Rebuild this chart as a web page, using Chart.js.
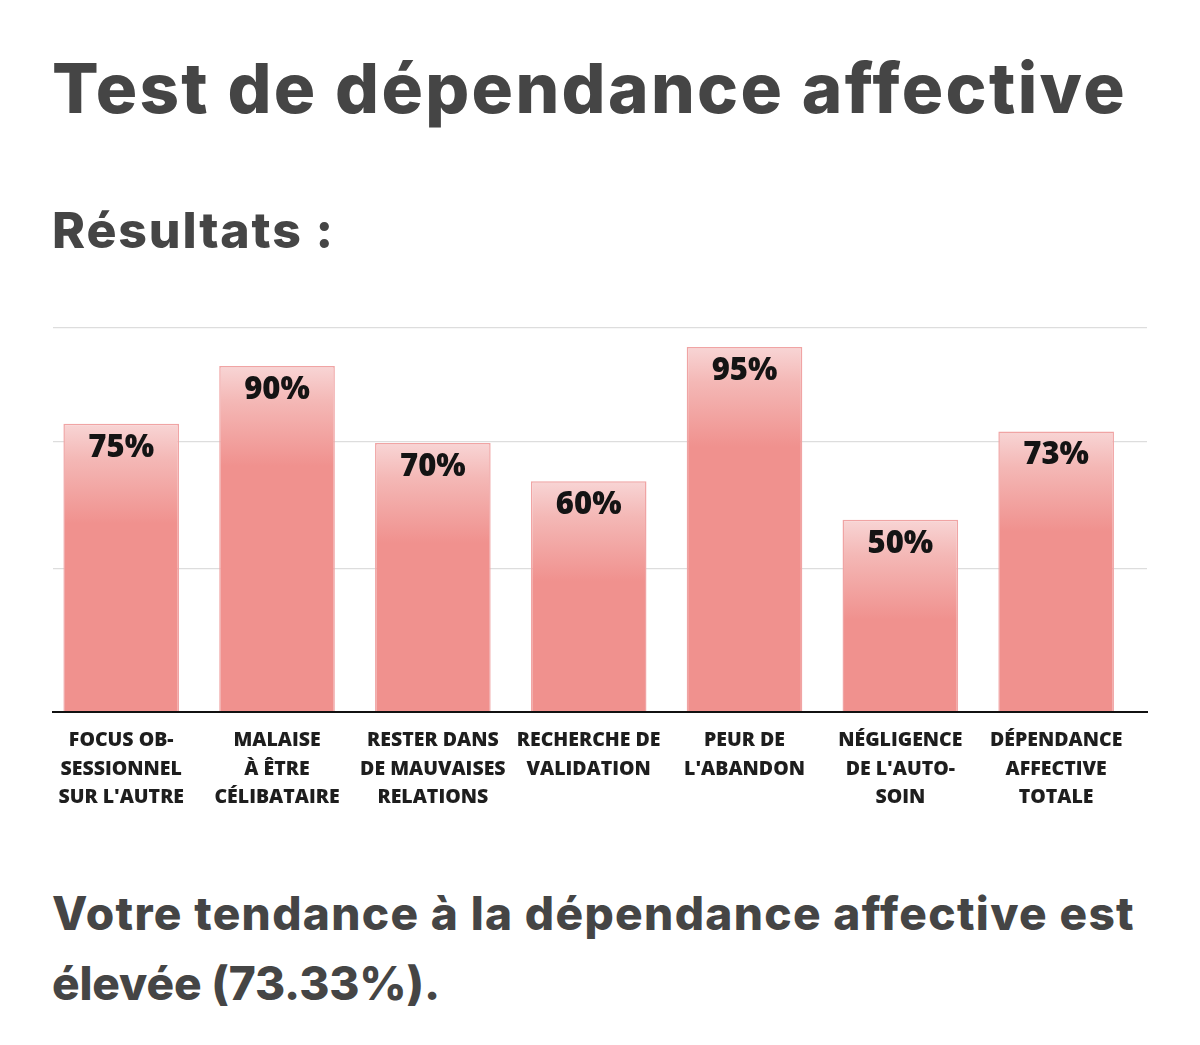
<!DOCTYPE html>
<html><head><meta charset="utf-8">
<script src="https://cdn.jsdelivr.net/npm/chart.js@4.4.0/dist/chart.umd.min.js"></script>
<style>
html,body{margin:0;padding:0;background:#fff;width:1200px;height:1045px;overflow:hidden;}
.t{position:absolute;left:0;top:0;white-space:nowrap;font-family:Inter, "Noto Sans", sans-serif;color:#454545;line-height:1;}
.b{display:inline-block;width:0;height:0;vertical-align:baseline;}
#wrap{position:absolute;left:0;top:300px;width:1200px;height:520px;}
</style></head>
<body>
<div class="t" id="title" data-base="113.3" data-left="52" data-width="1075" style="font-size:69px;font-weight:800">Test de dépendance affective</div>
<div class="t" id="sub" data-base="247.5" data-left="52" data-width="283" style="font-size:50px;font-weight:800">Résultats :</div>
<div class="t" id="p1" data-base="930" data-left="52" data-width="1083" style="font-size:46px;font-weight:800">Votre tendance à la dépendance affective est</div>
<div class="t" id="p2" data-base="1000" data-left="52" data-width="388" style="font-size:46px;font-weight:800">élevée (73.33%).</div>
<div id="wrap"><canvas id="c" width="1200" height="520"></canvas></div>
<script>
const categories = [
  ["FOCUS OB-", "SESSIONNEL", "SUR L'AUTRE"],
  ["MALAISE", "À ÊTRE", "CÉLIBATAIRE"],
  ["RESTER DANS", "DE MAUVAISES", "RELATIONS"],
  ["RECHERCHE DE", "VALIDATION"],
  ["PEUR DE", "L'ABANDON"],
  ["NÉGLIGENCE", "DE L'AUTO-", "SOIN"],
  ["DÉPENDANCE", "AFFECTIVE", "TOTALE"]
];
const values = [75, 90, 70, 60, 95, 50, 73];
const valueLabels = ["75%", "90%", "70%", "60%", "95%", "50%", "73%"];
const gridValues = [0, 37.3, 70.4, 100];

// Text placement (letter-spacing fit + baseline positioning)
document.querySelectorAll('.t').forEach(el => {
  const txt = el.textContent;
  el.innerHTML = '<span class="m"></span><span class="b"></span>';
  const m = el.querySelector('.m'); m.textContent = txt;
  if (el.dataset.width) {
    const w = m.getBoundingClientRect().width;
    const ls = (parseFloat(el.dataset.width) - w) / txt.length;
    el.style.letterSpacing = ls + 'px';
  }
  const b = el.querySelector('.b');
  el.style.left = el.dataset.left + 'px';
  el.style.top = (parseFloat(el.dataset.base) - b.offsetTop) + 'px';
});

const labelPlugin = {
  id: 'valueLabels',
  afterDatasetsDraw(chart) {
    const ctx = chart.ctx;
    const meta = chart.getDatasetMeta(0);
    ctx.save();
    ctx.font = '800 31px "Open Sans"';
    ctx.fillStyle = '#141414';
    ctx.textAlign = 'center';
    ctx.textBaseline = 'middle';
    meta.data.forEach((el, i) => {
      ctx.fillText(valueLabels[i], el.x, el.y + 24);
    });
    ctx.restore();
  }
};

new Chart(document.getElementById('c'), {
  type: 'bar',
  data: {
    datasets: [{
      data: values.map((v, i) => ({ x: i, y: v })),
      backgroundColor: (c) => {
        const chart = c.chart;
        if (!chart.chartArea || c.type !== 'data') return '#f0918e';
        const y = chart.scales.y.getPixelForValue(c.parsed.y);
        const g = chart.ctx.createLinearGradient(0, y, 0, y + 100);
        g.addColorStop(0, '#f8d5d5');
        g.addColorStop(0.35, '#f4b8b6');
        g.addColorStop(1, '#f0918e');
        return g;
      },
      borderColor: '#f0a4a4',
      borderWidth: 1.5,
      barPercentage: 0.742,
      categoryPercentage: 1
    }]
  },
  options: {
    responsive: false,
    animation: false,
    layout: { padding: { left: 53, right: 53, top: 27.7, bottom: 0 } },
    plugins: { legend: { display: false }, tooltip: { enabled: false } },
    scales: {
      x: {
        type: 'linear', min: -0.4377, max: 6.583, offset: false,
        grid: { display: false, drawTicks: false },
        border: { display: true, color: '#111', width: 2 },
        afterBuildTicks: s => { s.ticks = categories.map((c, i) => ({ value: i })); },
        ticks: {
          autoSkip: false, maxRotation: 0, minRotation: 0, padding: 15,
          color: '#1e1e1e',
          font: { family: 'Open Sans', weight: '800', size: 19.5, lineHeight: 1.46 },
          callback: (v) => categories[v]
        },
        afterFit: s => { s.height = 108.3; }
      },
      y: {
        min: 0, max: 100,
        afterBuildTicks: s => { s.ticks = gridValues.map(v => ({ value: v })); },
        ticks: { display: false },
        grid: { color: '#dddddd', lineWidth: 1.3, drawTicks: false },
        border: { display: false },
        afterFit: s => { s.width = 0; }
      }
    }
  },
  plugins: [labelPlugin]
});
</script>
</body></html>
